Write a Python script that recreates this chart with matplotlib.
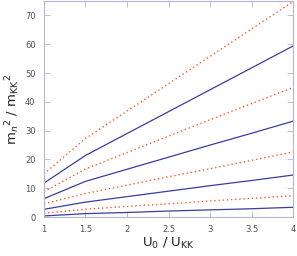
import matplotlib
matplotlib.use('Agg')
import matplotlib.pyplot as plt

# U0 / UKK sample points
u = [1.0, 1.5, 2.0, 2.5, 3.0, 3.5, 4.0]

# solid (blue) curves, n = 1..4
blue1 = [0.4, 1.2, 1.6, 2.1, 2.5, 2.9, 3.4]
blue2 = [2.7, 5.2, 7.1, 9.0, 10.9, 12.7, 14.6]
blue3 = [6.4, 12.4, 16.6, 20.8, 25.0, 29.1, 33.3]
blue4 = [11.8, 21.4, 29.0, 36.6, 44.2, 51.8, 59.4]

# dotted (red) curves
red1 = [1.3, 2.75, 3.7, 4.6, 5.6, 6.5, 7.4]
red2 = [4.6, 8.2, 11.1, 14.0, 16.8, 19.7, 22.6]
red3 = [8.8, 16.7, 22.4, 28.1, 33.8, 39.4, 45.0]
red4 = [15.0, 27.3, 36.8, 46.3, 55.8, 65.3, 74.8]

xticks = [1, 1.5, 2, 2.5, 3, 3.5, 4]
xticklabels = ['1', '1.5', '2', '2.5', '3', '3.5', '4']
yticks = [0, 10, 20, 30, 40, 50, 60, 70]

blue = '#3c3ca0'
red = '#ff5a28'
frame = '#b4b4dc'

fig = plt.figure(figsize=(2.97, 2.56), dpi=100)
ax = fig.add_axes([0.148, 0.152, 0.839, 0.844])

for b in [blue1, blue2, blue3, blue4]:
    ax.plot(u, b, color=blue, linewidth=0.9)
for r in [red1, red2, red3, red4]:
    ax.plot(u, r, color=red, linewidth=1.0, linestyle=(0, (1, 2)))

ax.set_xlim(1, 4)
ax.set_ylim(0, 75)
ax.set_xticks(xticks)
ax.set_xticklabels(xticklabels)
ax.set_yticks(yticks)

for s in ax.spines.values():
    s.set_color(frame)
    s.set_linewidth(0.8)
ax.tick_params(direction='in', top=True, right=True, length=4, width=0.6,
               color=frame, labelsize=6, labelcolor='#505050', pad=6)

ax.set_xlabel('U$_0$ / U$_{\\rm KK}$', fontsize=9.5, color='#202020', labelpad=1)
ax.set_ylabel('m$_n$$^2$ / m$_{\\rm KK}$$^2$', fontsize=9.5, color='#202020', labelpad=2)

plt.savefig('out.png', dpi=100)
